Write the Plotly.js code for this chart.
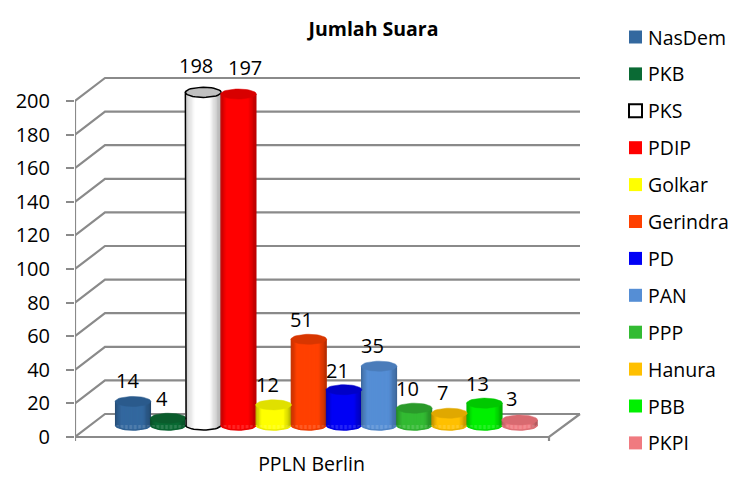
<!DOCTYPE html>
<html><head><meta charset="utf-8">
<script src="https://cdn.plot.ly/plotly-3.0.1.min.js"></script>
<style>html,body{margin:0;padding:0;background:#fff}</style></head>
<body><div id="chart" style="width:749px;height:490px"></div>
<script>
const parties = ["NasDem","PKB","PKS","PDIP","Golkar","Gerindra","PD","PAN","PPP","Hanura","PBB","PKPI"];
const votes = [14,4,198,197,12,51,21,35,10,7,13,3];
const barColors = ["#33689f","#0a6a34","#ffffff","#ff0000","#ffff00","#ff4000","#0000f5","#558ed5","#33bb33","#ffc000","#00f000","#f07a80"];
const topColors = ["#2a5a8c","#0a5c2c","#c0c0c0","#d80000","#e0e000","#d83600","#0000c8","#4a7cba","#2a9a2a","#e0a800","#00c800","#d86a70"];
const labelShiftX = [-6,-6,-7,7,-6,-7,-6,-7,-7,-7,-7,-8];
const labelShiftY = [21,20,27,27,20,20,19,21,20,21,20,21];
const yTicks = [0,20,40,60,80,100,120,140,160,180,200];
const categoryLabel = "PPLN Berlin";
const titleText = "Jumlah Suara";

// pixel frame of the plot area
const W=749,H=490,L=75,R=600,T=40,B=450;
const px0=133, pxStep=35.15, py0=437, pyBar=425, pyUnit=1.68;
const xOf=p=>(p-px0)/pxStep;
const xRange=[xOf(L),xOf(R)];
const yRange=[(py0-B)/pyUnit,(py0-T)/pyUnit];
const y2Range=[(pyBar-B)/pyUnit,(pyBar-T)/pyUnit];
const GRID="#8a8a8a";
const dx=xOf(105)-xOf(75), dy=23/pyUnit, xBackEnd=xOf(580), xFrontEnd=xOf(549);
const rx=0.51, ry=3;

function mix(hex,f){
  const n=parseInt(hex.slice(1),16),c=[n>>16,(n>>8)&255,n&255];
  return "rgb("+c.map(v=>Math.round(v*f)).join(",")+")";
}
function shade(t,white){
  if(white){
    if(t<-0.45) return 1-0.22*(-0.45-t)/0.55;
    if(t>0.35) return 1-0.35*(t-0.35)/0.65;
    return 1;
  }
  if(t<-0.65) return 1-0.28*(-0.65-t)/0.35;
  if(t>0.55) return 1-0.32*(t-0.55)/0.45;
  return 1;
}
const traces=[];
// walls and floor
const wx=[],wy=[];
yTicks.forEach(v=>{wx.push(xOf(75),xOf(75)+dx,xBackEnd,null);wy.push(v,v+dy,v+dy,null);});
traces.push({type:"scatter",mode:"lines",x:wx,y:wy,line:{color:GRID,width:2.2},showlegend:false,hoverinfo:"skip",cliponaxis:false});
traces.push({type:"scatter",mode:"lines",
  x:[xOf(75),xOf(75),null,xOf(75),xFrontEnd,xBackEnd,null,xFrontEnd,xFrontEnd],
  y:[200,-2.4,null,0,0,dy,null,0,-2.4],line:{color:GRID,width:2.2},showlegend:false,hoverinfo:"skip",cliponaxis:false});
// one plain bar per party
parties.forEach((p,i)=>{
  traces.push({type:"bar",name:p,x:[i],y:[votes[i]],width:[2*rx*0.98],yaxis:"y2",
    marker:{color:barColors[i],line:{width:0}},showlegend:false,hoverinfo:"name+y"});
});
// shading strips following the cylinder
const N=44;
const sx=[],sy=[],sb=[],sc=[],sw=[];
parties.forEach((p,i)=>{
  for(let k=0;k<N;k++){
    const t=-1+(2*k+1)/N, b=-ry*Math.sqrt(Math.max(0,1-t*t));
    sx.push(i+t*rx);sb.push(b);sy.push(votes[i]-b);sw.push(2*rx/N*1.3);
    sc.push(mix(barColors[i],shade(t,i===2)));
  }
});
traces.push({type:"bar",x:sx,y:sy,base:sb,width:sw,yaxis:"y2",marker:{color:sc,line:{width:0}},showlegend:false,hoverinfo:"skip"});
// bottom arcs smooth the strip ends
const M=40;
parties.forEach((p,i)=>{
  if(i===2) return;
  const ox=[],oy=[];
  for(let k=0;k<=M/2;k++){const a=Math.PI+Math.PI*k/(M/2);ox.push(i+rx*0.98*Math.cos(a));oy.push(ry*Math.sin(a));}
  traces.push({type:"scatter",mode:"lines",x:ox,y:oy,yaxis:"y2",line:{color:mix(barColors[i],0.92),width:1.5},showlegend:false,hoverinfo:"skip"});
});
// tops
parties.forEach((p,i)=>{
  const ex=[],ey=[];
  for(let k=0;k<=M;k++){const a=2*Math.PI*k/M;ex.push(i+rx*Math.cos(a));ey.push(votes[i]+ry*Math.sin(a));}
  traces.push({type:"scatter",mode:"lines",x:ex,y:ey,yaxis:"y2",fill:"toself",fillcolor:topColors[i],
    line:{color:i===2?"#000":topColors[i],width:i===2?1.5:0.5},showlegend:false,hoverinfo:"skip"});
});
// PKS outline: left side and bottom arc
(function(){
  const i=2,ox=[i-rx],oy=[votes[i]];
  for(let k=0;k<=M/2;k++){const a=Math.PI+Math.PI*k/(M/2)*0.92;ox.push(i+rx*Math.cos(a));oy.push(ry*Math.sin(a));}
  traces.push({type:"scatter",mode:"lines",x:ox,y:oy,yaxis:"y2",line:{color:"#000",width:1.5},showlegend:false,hoverinfo:"skip"});
})();

const font="'Open Sans', sans-serif";
const annotations=parties.map((p,i)=>({x:i,y:votes[i],xref:"x",yref:"y2",text:String(votes[i]),showarrow:false,
  xshift:labelShiftX[i],yshift:labelShiftY[i],font:{family:font,size:20,color:"#000"}}));
// legend column, one row per party
const pxX=p=>(p-L)/(R-L), pxY=p=>(B-p)/(B-T);
const legendTop=37, legendStep=36.9, swatchX=635.5, swatchHalf=6.5, legendTextX=646;
const shapes=[];
parties.forEach((p,i)=>{
  const c=legendTop+i*legendStep;
  annotations.push({x:pxX(legendTextX),y:pxY(c),xref:"paper",yref:"paper",xanchor:"left",yanchor:"middle",text:p,showarrow:false,
    font:{family:font,size:19.5,color:"#000"}});
  shapes.push({type:"rect",xref:"paper",yref:"paper",x0:pxX(swatchX-swatchHalf),x1:pxX(swatchX+swatchHalf),
    y0:pxY(c-swatchHalf),y1:pxY(c+swatchHalf),fillcolor:barColors[i],
    line:{width:i===2?2:0,color:"#000"}});
});
const layout={
  width:W,height:H,autosize:false,paper_bgcolor:"#fff",plot_bgcolor:"rgba(0,0,0,0)",
  margin:{l:L,r:W-R,t:T,b:H-B,pad:0},barmode:"overlay",showlegend:false,
  title:{text:"<b>"+titleText+"</b>",x:373.5/W,xanchor:"center",y:1-29/H,yanchor:"middle",font:{family:font,size:19.5,color:"#000"}},
  xaxis:{range:xRange,tickmode:"array",tickvals:[xOf(311.5)],ticktext:[categoryLabel],ticks:"",showgrid:false,zeroline:false,showline:false,
    tickfont:{family:font,size:19.5,color:"#000"}},
  yaxis:{range:yRange,tickmode:"array",tickvals:yTicks,ticks:"outside",ticklen:8,tickwidth:2,tickcolor:GRID,showgrid:false,zeroline:false,showline:false,
    tickfont:{family:font,size:20,color:"#000"},ticklabelstandoff:12},
  yaxis2:{range:y2Range,overlaying:"y",visible:false},
  annotations:annotations,shapes:shapes
};
Plotly.newPlot("chart",traces,layout,{displayModeBar:false,staticPlot:true});
</script></body></html>
